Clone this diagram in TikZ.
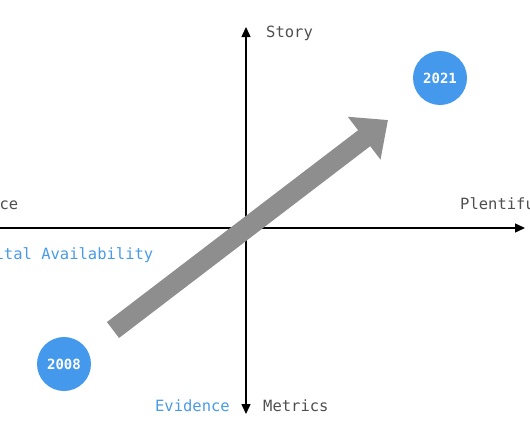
\documentclass[tikz,border=0pt]{standalone}
\usepackage{fontspec}
\setmonofont{DejaVu Sans Mono}
\usetikzlibrary{arrows.meta}
\definecolor{dotblue}{HTML}{4499EC}
\definecolor{labgray}{HTML}{4F4F4F}
\definecolor{labblue}{HTML}{4A9BE6}
\definecolor{bigarrow}{HTML}{8E8E8E}
\tikzset{
  axis/.style={line width=1.4pt, -{Triangle[length=10pt,width=9pt]}},
  lab/.style={font=\ttfamily\fontsize{15.5}{17}\selectfont, text=labgray, inner sep=0pt},
  bluelab/.style={lab, text=labblue},
  yeardot/.style={circle, fill=dotblue, minimum size=54pt, inner sep=0pt,
    font=\ttfamily\bfseries\fontsize{14}{15}\selectfont, text=white},
}
\begin{document}
\begin{tikzpicture}[x=1pt,y=-1pt]
\useasboundingbox (0,0) rectangle (530,442);
\coordinate (O) at (246,228);
\coordinate (L) at (-2,228);
\coordinate (R) at (525,228);
\coordinate (T) at (246,27);
\coordinate (B) at (246,414);
\draw[axis] (O) -- (R);
\draw[axis] (O) -- (T);
\draw[axis] (O) -- (B);
\draw[line width=1.4pt] (O) -- (L);
\node[lab, anchor=west] (story) at (266,33) {Story};
\node[lab, anchor=west] (plent) at (460,204) {Plentiful};
\node[lab, anchor=east] (scarce) at (18.5,204) {Scarce};
\node[bluelab, anchor=east] (capav) at (153.5,255) {Capital Availability};
\node[bluelab, anchor=east] (evid) at (230,406) {Evidence};
\node[lab, anchor=west] (metr) at (263,406) {Metrics};
\node[yeardot] (y2008) at (64,364) {2008};
\node[yeardot] (y2021) at (440,78) {2021};
\coordinate (A1) at (113,330);
\coordinate (A2) at (388,120);
\draw[bigarrow, line width=20pt, -{Triangle[length=30pt,width=52pt]}] (A1) -- (A2);
\end{tikzpicture}
\end{document}
